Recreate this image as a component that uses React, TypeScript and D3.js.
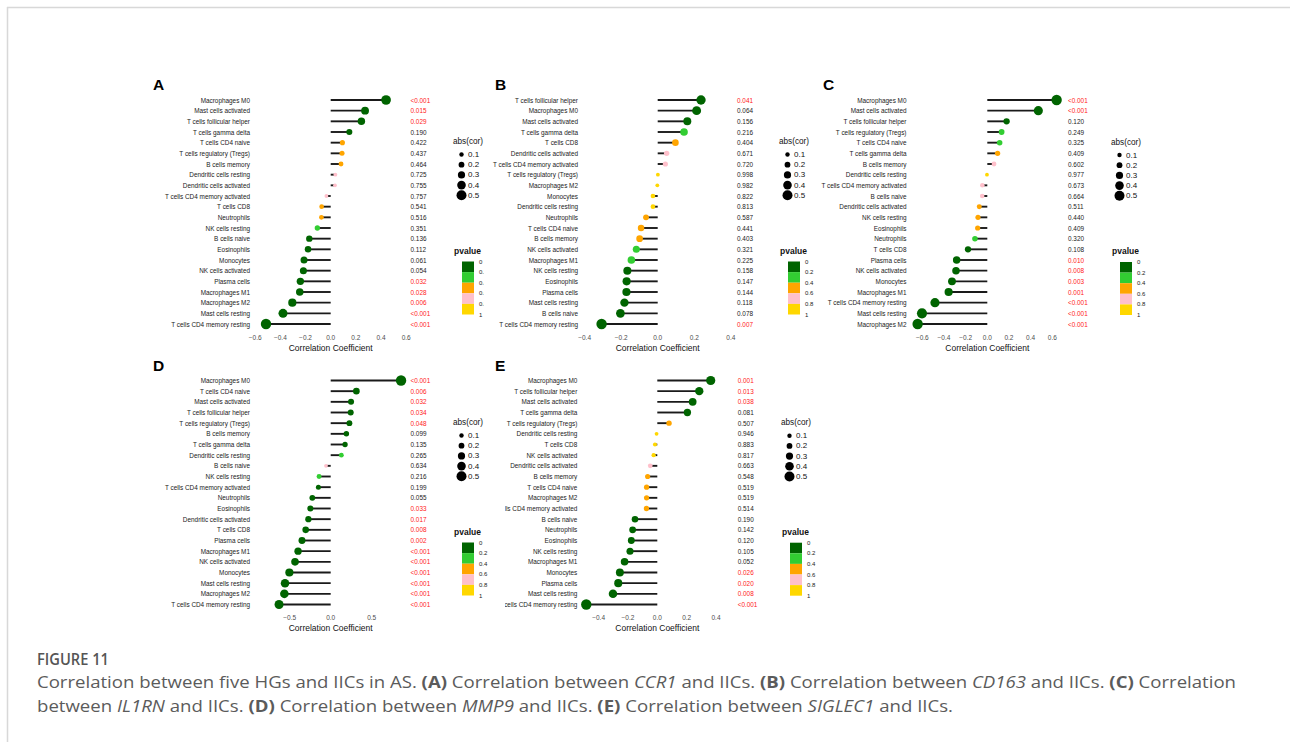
import * as d3 from 'd3';

// cell types, correlations and p-value labels, top to bottom as in each panel
const cellsA = ['Macrophages M0', 'Mast cells activated', 'T cells follicular helper', 'T cells gamma delta', 'T cells CD4 naive', 'T cells regulatory (Tregs)', 'B cells memory', 'Dendritic cells resting', 'Dendritic cells activated', 'T cells CD4 memory activated', 'T cells CD8', 'Neutrophils', 'NK cells resting', 'B cells naive', 'Eosinophils', 'Monocytes', 'NK cells activated', 'Plasma cells', 'Macrophages M1', 'Macrophages M2', 'Mast cells resting', 'T cells CD4 memory resting'];
const corA = [0.44, 0.273, 0.244, 0.148, 0.093, 0.09, 0.082, 0.037, 0.034, -0.034, -0.072, -0.074, -0.106, -0.17, -0.18, -0.212, -0.217, -0.241, -0.246, -0.305, -0.379, -0.514];
const pA = ['<0.001', '0.015', '0.029', '0.190', '0.422', '0.437', '0.464', '0.725', '0.755', '0.757', '0.541', '0.516', '0.351', '0.136', '0.112', '0.061', '0.054', '0.032', '0.028', '0.006', '<0.001', '<0.001'];

const cellsB = ['T cells follicular helper', 'Macrophages M0', 'Mast cells activated', 'T cells gamma delta', 'T cells CD8', 'Dendritic cells activated', 'T cells CD4 memory activated', 'T cells regulatory (Tregs)', 'Macrophages M2', 'Monocytes', 'Dendritic cells resting', 'Neutrophils', 'T cells CD4 naive', 'B cells memory', 'NK cells activated', 'Macrophages M1', 'NK cells resting', 'Eosinophils', 'Plasma cells', 'Mast cells resting', 'B cells naive', 'T cells CD4 memory resting'];
const corB = [0.237, 0.213, 0.162, 0.144, 0.097, 0.049, 0.042, 0.001, -0.002, -0.026, -0.026, -0.064, -0.091, -0.099, -0.117, -0.144, -0.166, -0.17, -0.171, -0.182, -0.204, -0.307];
const pB = ['0.041', '0.064', '0.156', '0.216', '0.404', '0.671', '0.720', '0.998', '0.982', '0.822', '0.813', '0.587', '0.441', '0.403', '0.321', '0.225', '0.158', '0.147', '0.144', '0.118', '0.078', '0.007'];

const cellsC = ['Macrophages M0', 'Mast cells activated', 'T cells follicular helper', 'T cells regulatory (Tregs)', 'T cells CD4 naive', 'T cells gamma delta', 'B cells memory', 'Dendritic cells resting', 'T cells CD4 memory activated', 'B cells naive', 'Dendritic cells activated', 'NK cells resting', 'Eosinophils', 'Neutrophils', 'T cells CD8', 'Plasma cells', 'NK cells activated', 'Monocytes', 'Macrophages M1', 'T cells CD4 memory resting', 'Mast cells resting', 'Macrophages M2'];
const corC = [0.64, 0.471, 0.178, 0.132, 0.114, 0.095, 0.062, -0.003, -0.046, -0.047, -0.074, -0.086, -0.089, -0.114, -0.178, -0.283, -0.289, -0.326, -0.357, -0.483, -0.603, -0.643];
const pC = ['<0.001', '<0.001', '0.120', '0.249', '0.325', '0.409', '0.602', '0.977', '0.673', '0.664', '0.511', '0.440', '0.409', '0.320', '0.108', '0.010', '0.008', '0.003', '0.001', '<0.001', '<0.001', '<0.001'];

const cellsD = ['Macrophages M0', 'T cells CD4 naive', 'Mast cells activated', 'T cells follicular helper', 'T cells regulatory (Tregs)', 'B cells memory', 'T cells gamma delta', 'Dendritic cells resting', 'B cells naive', 'NK cells resting', 'T cells CD4 memory activated', 'Neutrophils', 'Eosinophils', 'Dendritic cells activated', 'T cells CD8', 'Plasma cells', 'Macrophages M1', 'NK cells activated', 'Monocytes', 'Mast cells resting', 'Macrophages M2', 'T cells CD4 memory resting'];
const corD = [0.858, 0.313, 0.248, 0.244, 0.228, 0.191, 0.175, 0.13, -0.057, -0.142, -0.15, -0.224, -0.248, -0.272, -0.305, -0.35, -0.398, -0.435, -0.504, -0.557, -0.565, -0.63];
const pD = ['<0.001', '0.006', '0.032', '0.034', '0.048', '0.099', '0.135', '0.265', '0.634', '0.216', '0.199', '0.055', '0.033', '0.017', '0.008', '0.002', '<0.001', '<0.001', '<0.001', '<0.001', '<0.001', '<0.001'];

const cellsE = ['Macrophages M0', 'T cells follicular helper', 'Mast cells activated', 'T cells gamma delta', 'T cells regulatory (Tregs)', 'Dendritic cells resting', 'T cells CD8', 'NK cells activated', 'Dendritic cells activated', 'B cells memory', 'T cells CD4 naive', 'Macrophages M2', 'T cells CD4 memory activated', 'B cells naive', 'Neutrophils', 'Eosinophils', 'NK cells resting', 'Macrophages M1', 'Monocytes', 'Plasma cells', 'Mast cells resting', 'T cells CD4 memory resting'];
const corE = [0.364, 0.286, 0.241, 0.205, 0.08, -0.005, -0.016, -0.025, -0.048, -0.066, -0.073, -0.073, -0.074, -0.152, -0.168, -0.177, -0.186, -0.223, -0.255, -0.266, -0.302, -0.484];
const pE = ['0.001', '0.013', '0.038', '0.081', '0.507', '0.946', '0.883', '0.817', '0.663', '0.548', '0.519', '0.519', '0.514', '0.190', '0.142', '0.120', '0.105', '0.052', '0.026', '0.020', '0.008', '<0.001'];

const ticksWide = [-0.6, -0.4, -0.2, 0, 0.2, 0.4, 0.6];
const ticksNarrow = [-0.4, -0.2, 0, 0.2, 0.4];
const ticksD = [-0.5, 0, 0.5];

const sizeBreaks = [0.1, 0.2, 0.3, 0.4, 0.5];
const pBreaks = [0, 0.2, 0.4, 0.6, 0.8, 1];
const pColors = ['#006400', '#32CD32', '#FFA500', '#FFC0CB', '#FFD700'];

const FONT = '"Liberation Sans", Arial, sans-serif';

const pColor = d3.scaleThreshold<number, string>().domain([0.2, 0.4, 0.6, 0.8]).range(pColors);
const pNum = (s: string) => (s.startsWith('<') ? 0 : +s);
const fmtTick = d3.format('.1f');
const legendR = d3.scaleLinear().domain([0.1, 0.5]).range([2.2, 5]);

type Cfg = {
  id: string; letter: string; letterX: number; letterY: number;
  domain: [number, number]; range: [number, number]; ticks: number[];
  rows: [number, number]; labelX: number; pX: number; axisY: number;
  legX: number; legY: number; clipX0?: number; clipX1?: number;
};

function Panel({ cfg, cells, cor, pv }: { cfg: Cfg; cells: string[]; cor: number[]; pv: string[] }) {
  const x = d3.scaleLinear().domain(cfg.domain).range(cfg.range);
  const y = d3.scalePoint<string>().domain(cells).range(cfg.rows);
  const abs = cor.map(Math.abs);
  const area = d3.scaleLinear().domain(d3.extent(abs) as [number, number]).range([1.9 * 1.9, 5.2 * 5.2]);
  const r = (v: number) => Math.sqrt(Math.max(area(v), 2));
  const zero = x(0);
  const mid = (cfg.range[0] + cfg.range[1]) / 2;
  const barY = d3.scaleLinear().domain([0, 1]).range([cfg.legY + 120, cfg.legY + 173]);
  const clip = `clip-${cfg.id}`;
  const x0 = cfg.clipX0 ?? 0;
  const x1 = cfg.clipX1 ?? 1290;

  return (
    <g>
      <clipPath id={clip}>
        <rect x={x0} y={0} width={x1 - x0} height={742} />
      </clipPath>
      <text x={cfg.letterX} y={cfg.letterY} fontFamily={FONT} fontWeight="bold" fontSize={15.5} fill="#000">{cfg.letter}</text>

      <g clipPath={`url(#${clip})`}>
        {cells.map((c, i) => (
          <g key={c + i}>
            <text x={cfg.labelX} y={y(c)} textAnchor="end" dominantBaseline="central" fontFamily={FONT} fontSize={6.4} fill="#222">{c}</text>
            <line x1={zero} x2={x(cor[i])} y1={y(c)} y2={y(c)} stroke="#1a1a1a" strokeWidth={1.9} />
            <circle cx={x(cor[i])} cy={y(c)} r={r(abs[i])} fill={pColor(pNum(pv[i]))} />
            <text x={cfg.pX} y={y(c)} dominantBaseline="central" fontFamily={FONT} fontSize={6.4} fill={pNum(pv[i]) < 0.05 ? '#ff2020' : '#222'}>{pv[i]}</text>
          </g>
        ))}

        {cfg.ticks.map(t => (
          <text key={t} x={x(t)} y={cfg.axisY} textAnchor="middle" dominantBaseline="central" fontFamily={FONT} fontSize={6.5} fill="#4d4d4d">{fmtTick(t)}</text>
        ))}
        <text x={mid} y={cfg.axisY + 10.5} textAnchor="middle" dominantBaseline="central" fontFamily={FONT} fontSize={8.5} fill="#111">Correlation Coefficient</text>

        {/* size legend */}
        <text x={cfg.legX} y={cfg.legY} dominantBaseline="central" fontFamily={FONT} fontSize={8.2} fill="#111">abs(cor)</text>
        {sizeBreaks.map((b, i) => (
          <g key={b}>
            <circle cx={cfg.legX + 8.5} cy={cfg.legY + 13 + i * 10.2} r={legendR(b)} fill="#000" />
            <text x={cfg.legX + 15} y={cfg.legY + 13 + i * 10.2} dominantBaseline="central" fontFamily={FONT} fontSize={8} fill="#111">{b.toFixed(1)}</text>
          </g>
        ))}

        {/* p-value legend */}
        <text x={cfg.legX + 1} y={cfg.legY + 109} dominantBaseline="central" fontFamily={FONT} fontWeight="bold" fontSize={8.5} fill="#111">pvalue</text>
        {pColors.map((col, i) => (
          <rect key={col} x={cfg.legX + 9} y={barY(pBreaks[i])} width={12} height={barY(pBreaks[i + 1]) - barY(pBreaks[i])} fill={col} />
        ))}
        {pBreaks.map(b => (
          <text key={b} x={cfg.legX + 26} y={barY(b)} dominantBaseline="central" fontFamily={FONT} fontSize={6} fill="#222">{b === 0 || b === 1 ? String(b) : b.toFixed(1)}</text>
        ))}
      </g>
    </g>
  );
}

const topRows: [number, number] = [100, 324];
const botRows: [number, number] = [380.5, 604.5];

const cfgA: Cfg = { id: 'a', letter: 'A', letterX: 153, letterY: 89.5, domain: [-0.6, 0.6], range: [255.2, 406.2], ticks: ticksWide, rows: topRows, labelX: 250, pX: 410.5, axisY: 337, legX: 453, legY: 141.5, clipX1: 484 };
const cfgB: Cfg = { id: 'b', letter: 'B', letterX: 495, letterY: 89.5, domain: [-0.4, 0.4], range: [584.6, 730.8], ticks: ticksNarrow, rows: topRows, labelX: 578, pX: 737, axisY: 337, legX: 779, legY: 141.5 };
const cfgC: Cfg = { id: 'c', letter: 'C', letterX: 823, letterY: 89.5, domain: [-0.6, 0.6], range: [922.3, 1052.3], ticks: ticksWide, rows: topRows, labelX: 906.5, pX: 1068, axisY: 337, legX: 1111, legY: 142 };
const cfgD: Cfg = { id: 'd', letter: 'D', letterX: 153, letterY: 370.5, domain: [-0.5, 0.5], range: [289.7, 371.7], ticks: ticksD, rows: botRows, labelX: 250, pX: 410.5, axisY: 617, legX: 453, legY: 422.5 };
const cfgE: Cfg = { id: 'e', letter: 'E', letterX: 495, letterY: 370.5, domain: [-0.4, 0.4], range: [598.6, 716], ticks: ticksNarrow, rows: botRows, labelX: 577.3, pX: 737.7, axisY: 617, legX: 781, legY: 422.7, clipX0: 505 };

const CAP = '"Open Sans", "Noto Sans", sans-serif';

export default function App() {
  return (
    <svg width={1290} height={742} style={{ position: 'absolute', left: 0, top: 0, background: '#fff' }}>
      <rect width={1290} height={742} fill="#fff" />
      <line x1={7} x2={1290} y1={7.5} y2={7.5} stroke="#d8d8d8" strokeWidth={1.5} />
      <line x1={7.5} x2={7.5} y1={7} y2={742} stroke="#d8d8d8" strokeWidth={1.5} />

      <Panel cfg={cfgA} cells={cellsA} cor={corA} pv={pA} />
      <Panel cfg={cfgB} cells={cellsB} cor={corB} pv={pB} />
      <Panel cfg={cfgC} cells={cellsC} cor={corC} pv={pC} />
      <Panel cfg={cfgD} cells={cellsD} cor={corD} pv={pD} />
      <Panel cfg={cfgE} cells={cellsE} cor={corE} pv={pE} />

      <text x={37} y={665} fontFamily={CAP} fontWeight={600} fontSize={15.5} fill="#555" textLength={72} lengthAdjust="spacingAndGlyphs">FIGURE 11</text>
      <text x={37} y={687.5} fontFamily={CAP} fontSize={16.5} fill="#5b5b5b" textLength={1199} lengthAdjust="spacingAndGlyphs">
        Correlation between five HGs and IICs in AS. <tspan fontWeight="bold">(A)</tspan> Correlation between <tspan fontStyle="italic">CCR1</tspan> and IICs. <tspan fontWeight="bold">(B)</tspan> Correlation between <tspan fontStyle="italic">CD163</tspan> and IICs. <tspan fontWeight="bold">(C)</tspan> Correlation
      </text>
      <text x={37} y={712} fontFamily={CAP} fontSize={16.5} fill="#5b5b5b" textLength={916} lengthAdjust="spacingAndGlyphs">
        between <tspan fontStyle="italic">IL1RN</tspan> and IICs. <tspan fontWeight="bold">(D)</tspan> Correlation between <tspan fontStyle="italic">MMP9</tspan> and IICs. <tspan fontWeight="bold">(E)</tspan> Correlation between <tspan fontStyle="italic">SIGLEC1</tspan> and IICs.
      </text>
    </svg>
  );
}
